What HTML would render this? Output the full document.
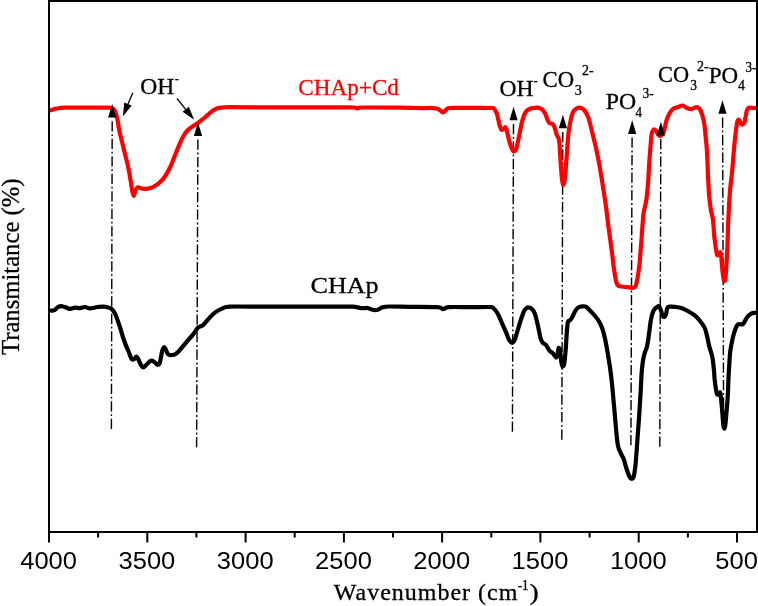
<!DOCTYPE html>
<html><head><meta charset="utf-8"><title>FTIR spectra</title>
<style>html,body{margin:0;padding:0;background:#fff}svg{display:block}</style></head>
<body>
<svg width="758" height="606" viewBox="0 0 758 606">
<rect width="758" height="606" fill="#fff"/>
<g stroke="#000" stroke-width="1.4" fill="none" stroke-dasharray="10.2 2.7 1.9 2.7">
<path d="M112.2,121.3L111.4,430.1"/>
<path d="M197.9,139.6L196.6,448.9"/>
<path d="M513.5,124.0L512.4,432.7"/>
<path d="M562.8,132.0L561.8,440.7"/>
<path d="M632.1,137.6L630.9,446.2"/>
<path d="M660.8,139.1L659.8,447.9"/>
<path d="M722.6,117.5L723.6,424.0"/>
</g>
<path d="M51.0,310.6C51.6,310.5 53.3,310.7 54.5,310.1C55.7,309.5 56.9,307.8 58.0,307.1C59.1,306.4 60.1,306.1 61.3,306.1C62.5,306.1 63.5,306.7 65.0,307.1C66.5,307.6 68.3,308.7 70.0,308.8C71.7,308.9 73.3,307.7 75.0,307.6C76.7,307.5 78.3,308.2 80.0,308.1C81.7,308.0 83.3,307.0 85.0,307.0C86.7,307.0 87.9,308.3 90.0,308.3C92.1,308.3 95.1,307.2 97.7,307.0C100.3,306.8 103.4,306.5 105.7,306.8C108.0,307.1 109.8,307.6 111.4,308.8C113.0,310.0 113.8,310.9 115.2,313.8C116.6,316.7 118.2,322.0 119.7,326.4C121.2,330.8 122.5,335.8 124.0,340.2C125.5,344.6 127.7,349.5 129.0,352.7C130.3,355.9 130.9,358.1 131.8,359.2C132.7,360.2 133.5,359.4 134.3,359.0C135.1,358.6 135.8,356.4 136.5,356.5C137.2,356.6 137.8,358.3 138.5,359.7C139.2,361.1 140.0,363.4 140.8,364.7C141.6,366.0 142.4,367.5 143.3,367.5C144.2,367.5 145.2,365.8 146.5,364.7C147.8,363.6 149.5,361.2 150.8,360.7C152.1,360.2 153.0,361.0 154.1,361.7C155.2,362.4 156.4,364.5 157.3,364.7C158.2,364.9 159.0,364.9 159.8,362.7C160.6,360.5 161.4,354.0 162.1,351.4C162.8,348.8 163.4,347.4 164.1,347.2C164.8,347.0 165.4,349.0 166.1,350.2C166.8,351.4 167.1,353.8 168.4,354.5C169.7,355.2 172.5,355.1 174.1,354.7C175.7,354.3 176.4,353.6 177.9,352.2C179.4,350.8 181.0,348.6 182.9,346.4C184.8,344.2 187.3,341.1 189.2,338.9C191.1,336.7 192.8,335.0 194.2,333.1C195.6,331.2 196.4,328.9 197.9,327.6C199.4,326.3 201.1,326.7 203.0,325.1C204.9,323.5 207.1,320.3 209.2,318.1C211.3,315.9 213.2,313.8 215.5,312.1C217.8,310.4 220.6,309.0 223.0,308.1C225.4,307.2 223.8,306.9 230.0,306.6C236.2,306.4 248.3,306.6 260.0,306.6C271.7,306.6 286.7,306.6 300.0,306.6C313.3,306.6 331.2,306.6 340.0,306.6C348.8,306.6 348.9,306.4 352.7,306.7C356.5,307.0 360.2,308.0 362.7,308.2C365.2,308.4 365.8,307.7 367.5,308.0C369.2,308.3 371.0,309.5 372.7,309.8C374.4,310.1 376.0,310.2 377.7,309.8C379.4,309.4 380.8,307.9 382.7,307.3C384.6,306.8 384.8,306.6 389.3,306.5C393.9,306.4 401.9,306.7 410.0,306.8C418.1,306.9 432.1,306.7 437.6,307.1C443.1,307.5 441.2,309.1 443.1,309.1C445.0,309.1 444.4,307.4 448.9,307.1C453.4,306.8 463.1,307.1 470.0,307.1C476.9,307.1 486.1,306.9 490.0,307.0C493.9,307.1 492.1,306.9 493.3,308.0C494.6,309.1 496.1,310.9 497.5,313.3C498.9,315.7 500.3,319.4 501.7,322.5C503.1,325.6 504.6,328.9 505.8,331.7C507.0,334.5 507.9,337.5 508.7,339.2C509.5,340.9 510.2,341.4 510.8,342.0C511.4,342.6 511.9,343.0 512.5,342.7C513.1,342.4 513.9,342.0 514.7,340.0C515.5,338.0 516.5,334.1 517.5,330.8C518.5,327.5 519.7,323.3 520.8,320.0C521.9,316.7 523.2,312.8 524.2,310.8C525.2,308.8 526.0,308.6 526.7,308.0C527.5,307.4 527.9,307.4 528.7,307.5C529.5,307.6 530.7,307.7 531.7,308.7C532.7,309.7 533.8,311.1 534.7,313.3C535.6,315.5 536.2,318.6 537.0,321.7C537.8,324.8 538.6,328.8 539.2,331.7C539.8,334.6 540.2,337.3 540.8,339.2C541.4,341.1 542.2,342.1 543.0,343.0C543.8,343.9 545.0,343.8 545.8,344.7C546.6,345.6 547.3,347.2 548.0,348.3C548.7,349.4 549.2,350.5 550.0,351.3C550.8,352.1 551.7,352.2 552.5,353.0C553.3,353.8 554.1,355.1 554.7,355.8C555.3,356.6 555.8,357.8 556.3,357.5C556.8,357.2 557.1,355.8 557.5,354.2C557.9,352.6 558.3,348.6 558.7,348.0C559.1,347.4 559.6,348.8 560.0,350.8C560.4,352.8 560.7,357.6 561.0,360.0C561.3,362.4 561.7,363.9 562.0,365.0C562.3,366.1 562.6,366.6 563.0,366.3C563.4,366.0 563.8,366.3 564.3,363.3C564.8,360.3 565.3,353.9 565.8,348.3C566.2,342.8 566.6,334.4 567.0,330.0C567.4,325.6 567.5,323.3 568.0,321.7C568.5,320.1 569.2,321.1 570.0,320.3C570.8,319.5 571.6,318.3 572.5,316.7C573.4,315.1 574.3,312.3 575.3,310.8C576.3,309.3 577.1,308.2 578.3,307.5C579.5,306.8 581.2,306.4 582.5,306.3C583.8,306.2 584.7,306.1 585.8,306.7C586.9,307.3 587.8,308.3 589.2,309.7C590.6,311.1 592.5,313.0 594.2,315.0C595.9,317.0 597.8,319.3 599.2,321.7C600.6,324.1 601.5,326.1 602.5,329.2C603.5,332.2 604.3,335.4 605.3,340.0C606.3,344.6 607.4,351.1 608.3,356.7C609.2,362.2 610.1,367.8 610.8,373.3C611.5,378.9 612.0,383.9 612.6,390.0C613.2,396.1 613.8,403.0 614.4,410.1C615.0,417.2 615.8,426.6 616.4,432.6C617.0,438.7 617.3,442.8 618.1,446.4C618.9,449.9 620.2,451.8 621.1,453.9C622.0,456.0 622.9,456.6 623.7,458.9C624.6,461.2 625.2,464.8 626.2,467.7C627.2,470.6 628.5,474.7 629.4,476.5C630.3,478.3 631.0,478.7 631.7,478.7C632.4,478.7 633.0,479.2 633.7,476.5C634.4,473.8 635.1,468.8 635.7,462.7C636.3,456.6 636.8,448.0 637.4,440.1C638.0,432.2 638.6,423.6 639.2,415.1C639.8,406.6 640.3,396.9 640.8,389.3C641.2,381.7 641.4,375.3 641.9,369.7C642.4,364.1 643.0,359.6 643.9,355.7C644.8,351.8 646.1,350.0 647.0,346.4C647.9,342.8 648.4,338.3 649.0,333.9C649.6,329.5 650.2,323.7 650.9,319.9C651.6,316.1 652.3,313.4 653.2,311.3C654.1,309.2 655.3,308.4 656.3,307.5C657.3,306.6 658.2,305.7 659.0,306.2C659.8,306.7 660.4,309.0 661.0,310.6C661.6,312.2 662.0,315.0 662.6,316.0C663.2,317.0 664.0,317.2 664.6,316.8C665.2,316.4 665.8,315.1 666.2,313.7C666.6,312.3 666.6,309.4 667.2,308.2C667.8,307.0 668.2,306.9 669.6,306.7C671.0,306.5 673.7,306.8 675.8,307.0C677.9,307.2 679.9,307.5 682.0,308.2C684.1,308.9 686.2,310.1 688.3,311.3C690.4,312.5 692.6,313.6 694.5,315.2C696.4,316.8 698.2,318.6 699.9,320.7C701.6,322.8 703.4,325.2 704.6,327.7C705.8,330.2 706.1,332.4 706.9,335.5C707.7,338.6 708.4,342.8 709.3,346.4C710.2,350.0 711.6,353.4 712.4,357.3C713.2,361.2 713.5,365.9 713.9,369.7C714.3,373.5 714.4,376.7 714.7,380.0C715.1,383.3 715.6,386.9 716.0,389.3C716.4,391.7 716.6,393.5 717.1,394.3C717.6,395.1 718.6,394.3 719.1,394.0C719.6,393.7 719.9,392.0 720.2,392.5C720.5,393.0 720.6,394.0 720.9,397.1C721.2,400.2 721.8,406.4 722.2,411.1C722.6,415.8 723.0,422.2 723.3,425.1C723.6,428.0 723.9,428.6 724.2,428.6C724.5,428.6 724.9,428.0 725.3,425.1C725.7,422.2 726.2,416.0 726.6,411.1C727.0,406.2 727.5,400.8 727.8,395.6C728.1,390.4 728.2,384.9 728.4,380.0C728.6,375.1 728.9,370.8 729.2,366.0C729.5,361.2 729.7,355.6 730.3,351.0C730.9,346.4 731.8,342.2 732.6,338.6C733.4,335.0 734.4,331.6 735.3,329.2C736.2,326.8 736.9,325.1 738.1,324.3C739.3,323.5 741.5,324.9 742.7,324.3C743.9,323.7 744.3,321.9 745.1,320.7C745.9,319.4 746.4,318.0 747.4,316.8C748.4,315.6 750.0,314.4 751.3,313.7C752.6,313.0 754.3,313.0 755.2,312.9C756.1,312.8 756.3,312.8 756.5,312.8" fill="none" stroke="#000" stroke-width="4.2" stroke-linejoin="round" stroke-linecap="round"/>
<path transform="translate(0,0.4)" d="M51.0,109.8C51.2,109.7 51.8,109.6 52.5,109.4C53.2,109.2 53.8,108.7 55.0,108.4C56.2,108.1 58.3,107.8 60.0,107.6C61.7,107.4 61.7,107.3 65.0,107.2C68.3,107.1 75.0,107.2 80.0,107.2C85.0,107.2 90.3,107.2 95.0,107.2C99.7,107.2 105.4,107.2 108.0,107.2C110.6,107.2 109.8,107.3 110.5,107.4C111.2,107.5 111.9,107.7 112.5,108.0C113.1,108.3 113.7,108.8 114.2,109.4C114.7,110.1 115.1,110.9 115.5,111.9C115.9,112.9 116.2,114.1 116.5,115.3C116.8,116.5 117.0,116.7 117.5,119.2C118.0,121.6 118.3,125.4 119.3,130.0C120.3,134.6 121.9,140.9 123.3,146.7C124.7,152.5 126.6,159.4 127.8,165.0C129.0,170.6 129.9,175.8 130.6,180.0C131.3,184.2 131.7,187.9 132.2,190.5C132.7,193.1 133.2,195.4 133.7,195.5C134.2,195.6 134.7,192.2 135.2,191.0C135.7,189.8 136.0,188.7 136.5,188.0C137.0,187.3 137.2,186.8 138.3,186.9C139.4,187.0 141.2,188.1 142.8,188.3C144.4,188.5 146.4,188.5 147.8,188.3C149.2,188.1 150.2,187.7 151.5,187.2C152.8,186.7 154.1,186.1 155.3,185.3C156.6,184.5 157.8,183.7 159.0,182.6C160.2,181.5 161.6,180.5 162.8,179.0C164.1,177.5 165.2,175.6 166.5,173.5C167.8,171.4 169.1,169.2 170.3,166.5C171.6,163.8 172.7,160.6 174.0,157.5C175.3,154.4 176.7,150.5 177.9,147.7C179.1,144.9 180.0,142.7 181.0,140.5C182.0,138.3 183.1,136.2 184.1,134.6C185.1,132.9 185.9,131.8 187.0,130.6C188.1,129.4 189.2,128.5 190.4,127.6C191.6,126.7 192.8,126.0 194.0,125.2C195.2,124.4 196.7,123.6 197.9,122.7C199.2,121.8 200.2,120.8 201.5,119.8C202.8,118.7 204.2,117.6 205.4,116.6C206.7,115.5 207.7,114.4 209.0,113.4C210.3,112.3 211.8,111.0 213.0,110.2C214.2,109.4 215.0,108.9 216.0,108.4C217.0,107.9 217.9,107.7 219.2,107.4C220.5,107.2 222.2,107.0 224.0,106.9C225.8,106.8 224.0,106.8 230.0,106.8C236.0,106.8 248.3,107.0 260.0,107.0C271.7,107.0 286.7,107.0 300.0,107.0C313.3,107.0 331.0,107.0 340.0,107.0C349.0,107.0 351.0,106.9 354.0,107.1C357.0,107.3 356.6,108.1 357.9,108.1C359.1,108.1 354.5,107.2 361.5,107.1C368.5,107.0 389.4,107.2 400.0,107.3C410.6,107.4 419.8,107.8 425.0,107.8C430.2,107.8 428.9,107.3 431.0,107.4C433.1,107.5 436.0,107.9 437.6,108.4C439.2,108.9 439.6,109.6 440.5,110.2C441.4,110.8 442.2,112.1 443.1,112.1C444.0,112.1 444.8,110.7 445.6,110.0C446.4,109.3 446.5,108.3 448.1,107.9C449.7,107.5 449.7,107.6 455.0,107.5C460.3,107.4 473.8,107.5 480.0,107.5C486.2,107.5 489.6,107.5 492.0,107.6C494.4,107.8 493.4,107.5 494.2,108.4C495.0,109.3 496.0,111.1 496.7,112.9C497.4,114.7 497.8,117.2 498.3,119.2C498.8,121.1 499.0,122.8 499.5,124.5C500.0,126.2 500.7,128.5 501.3,129.2C501.9,129.9 502.6,129.0 503.3,128.6C504.0,128.2 504.8,126.6 505.3,126.7C505.8,126.8 506.1,127.9 506.5,129.0C506.9,130.1 506.9,130.9 507.5,133.3C508.1,135.7 509.2,140.6 510.0,143.3C510.8,146.0 511.8,148.2 512.5,149.5C513.2,150.8 513.6,151.2 514.2,151.0C514.8,150.8 515.5,151.0 516.3,148.3C517.1,145.6 518.2,139.8 519.2,135.0C520.2,130.2 521.4,123.6 522.5,119.7C523.6,115.7 524.5,113.3 525.8,111.4C527.0,109.5 528.6,109.0 530.0,108.4C531.4,107.8 532.8,107.8 534.0,107.6C535.2,107.4 536.2,107.1 537.5,107.3C538.8,107.5 540.5,107.8 541.7,108.7C543.0,109.6 544.0,111.1 545.0,112.9C546.0,114.7 546.8,117.8 547.5,119.4C548.2,121.0 548.4,121.7 549.2,122.4C550.0,123.1 551.7,123.0 552.5,123.5C553.3,124.1 553.5,124.4 554.0,125.5C554.5,126.6 555.0,128.5 555.5,130.0C556.0,131.5 556.2,133.2 556.7,134.5C557.2,135.8 558.1,136.2 558.6,138.0C559.1,139.8 559.3,141.3 559.6,145.0C559.9,148.7 560.1,154.6 560.5,160.0C560.9,165.4 561.4,173.4 561.9,177.5C562.4,181.6 562.9,184.8 563.4,184.8C563.9,184.8 564.5,182.4 565.0,177.5C565.5,172.6 566.1,162.8 566.7,155.3C567.3,147.8 567.8,138.9 568.5,132.7C569.2,126.5 570.2,121.8 571.0,118.2C571.8,114.6 572.5,112.6 573.5,110.9C574.5,109.2 575.6,108.5 576.7,107.9C577.8,107.3 578.8,107.1 580.0,107.4C581.2,107.7 582.8,108.0 584.2,109.6C585.6,111.2 587.0,113.6 588.3,117.0C589.5,120.4 590.5,125.0 591.7,130.0C593.0,135.0 594.5,141.1 595.8,146.7C597.0,152.2 598.1,157.2 599.2,163.3C600.3,169.4 601.4,176.4 602.5,183.3C603.6,190.2 604.8,198.1 605.8,205.0C606.8,211.9 607.3,217.5 608.3,225.0C609.3,232.5 610.7,242.5 611.7,250.0C612.7,257.5 613.4,264.7 614.2,270.0C615.0,275.3 615.6,279.1 616.3,281.7C617.0,284.2 617.1,284.5 618.3,285.3C619.5,286.1 621.5,286.0 623.3,286.3C625.1,286.6 627.5,286.8 629.2,287.0C630.9,287.2 632.2,287.6 633.3,287.3C634.4,287.0 635.0,287.1 635.8,285.0C636.6,282.9 637.4,278.9 638.0,275.0C638.6,271.1 639.2,267.2 639.7,261.7C640.2,256.1 640.8,247.8 641.3,241.7C641.8,235.6 642.1,229.7 642.5,225.0C642.9,220.3 642.9,217.5 643.5,213.3C644.1,209.1 645.5,205.0 646.3,200.0C647.0,195.0 647.5,189.4 648.0,183.3C648.5,177.2 648.8,169.7 649.2,163.3C649.6,156.9 650.2,150.0 650.6,145.0C651.0,140.0 651.2,135.9 651.7,133.3C652.2,130.7 653.0,129.8 653.7,129.2C654.4,128.6 655.0,129.1 655.8,130.0C656.6,130.9 657.5,133.6 658.3,134.5C659.1,135.4 660.0,135.6 660.8,135.3C661.6,135.0 662.6,133.8 663.3,132.5C664.0,131.2 664.3,129.6 664.8,127.5C665.3,125.4 665.7,122.4 666.5,120.0C667.3,117.5 668.5,114.7 669.6,112.8C670.7,110.9 671.8,109.4 673.3,108.4C674.8,107.4 676.8,107.2 678.3,106.6C679.8,106.1 681.2,104.9 682.6,105.1C684.0,105.3 685.5,107.0 686.9,107.6C688.3,108.2 689.9,108.9 691.3,108.8C692.6,108.7 694.0,107.5 695.0,107.2C696.0,106.9 696.7,106.5 697.5,106.8C698.3,107.1 699.2,107.6 700.0,109.0C700.8,110.4 701.7,112.7 702.4,115.1C703.1,117.5 703.8,120.3 704.3,123.5C704.8,126.8 705.1,130.6 705.5,134.7C705.9,138.8 706.4,143.2 706.8,148.3C707.1,153.4 707.4,159.7 707.6,165.0C707.8,170.3 707.9,174.6 708.2,180.0C708.5,185.4 708.8,192.3 709.3,197.2C709.8,202.1 710.3,205.9 710.9,209.6C711.5,213.3 712.5,215.2 713.0,219.5C713.5,223.8 713.9,231.7 714.2,235.1C714.5,238.5 714.5,237.6 714.8,240.0C715.1,242.4 715.7,247.3 716.1,249.8C716.5,252.3 716.8,254.2 717.3,254.8C717.8,255.4 718.7,254.0 719.2,253.5C719.7,253.0 720.0,251.1 720.4,251.7C720.8,252.3 721.0,254.4 721.3,257.2C721.6,260.0 722.0,265.1 722.3,268.4C722.6,271.7 723.0,275.1 723.3,277.1C723.6,279.1 723.8,280.4 724.1,280.6C724.5,280.8 725.0,281.4 725.4,278.3C725.8,275.2 726.2,268.0 726.6,262.2C727.0,256.4 727.2,250.3 727.5,243.6C727.8,236.9 727.9,228.7 728.2,222.0C728.5,215.3 728.8,209.2 729.1,203.4C729.5,197.6 729.8,192.5 730.3,187.3C730.8,182.1 731.5,177.3 732.0,172.4C732.5,167.5 732.8,163.2 733.2,158.0C733.7,152.8 734.2,145.8 734.7,140.9C735.2,136.0 735.8,131.8 736.2,128.5C736.7,125.2 736.9,122.6 737.4,121.1C737.9,119.6 738.4,119.1 739.0,119.4C739.6,119.7 740.3,122.2 740.9,123.0C741.5,123.8 742.1,124.3 742.7,124.1C743.3,123.9 744.1,123.3 744.6,121.8C745.1,120.3 745.3,117.2 745.8,115.1C746.2,113.0 746.7,110.3 747.3,109.0C747.9,107.7 748.6,107.4 749.6,107.2C750.6,107.0 752.2,107.5 753.3,107.6C754.4,107.7 755.9,107.8 756.4,107.8" fill="none" stroke="#f00" stroke-width="4.2" stroke-linejoin="round" stroke-linecap="round"/>
<g fill="#000">
<path d="M112.2,104.0L108.1,117.6L116.3,117.6Z"/>
<path d="M198.0,122.3L193.9,135.9L202.1,135.9Z"/>
<path d="M513.6,106.7L509.5,120.3L517.7,120.3Z"/>
<path d="M562.9,114.7L558.8,128.3L567.0,128.3Z"/>
<path d="M632.2,120.3L628.1,133.9L636.3,133.9Z"/>
<path d="M660.9,121.8L656.8,135.4L665.0,135.4Z"/>
<path d="M722.5,100.2L718.4,113.8L726.6,113.8Z"/>
</g>
<path d="M132.8,92.7L128.0,104.1" stroke="#000" stroke-width="1.3" fill="none"/><path d="M122.8,116.5L124.3,102.5L131.7,105.6Z" fill="#000"/>
<path d="M177.0,98.5L185.7,109.3" stroke="#000" stroke-width="1.3" fill="none"/><path d="M194.2,119.8L182.6,111.8L188.8,106.8Z" fill="#000"/>
<g stroke="#000" stroke-width="2" fill="none">
<path d="M49,0V533"/><path d="M757,0V533"/><path d="M48,1H758"/><path d="M48,532H758"/>
<path d="M49.0,532V542.5"/>
<path d="M98.1,532V537.5"/>
<path d="M147.3,532V542.5"/>
<path d="M196.4,532V537.5"/>
<path d="M245.6,532V542.5"/>
<path d="M294.7,532V537.5"/>
<path d="M343.9,532V542.5"/>
<path d="M393.0,532V537.5"/>
<path d="M442.1,532V542.5"/>
<path d="M491.3,532V537.5"/>
<path d="M540.4,532V542.5"/>
<path d="M589.6,532V537.5"/>
<path d="M638.7,532V542.5"/>
<path d="M687.9,532V537.5"/>
<path d="M737.0,532V542.5"/>
</g>
<g font-family="'Liberation Sans',Arial,sans-serif" font-size="23.2" text-anchor="middle" fill="#000">
<text x="48.6" y="569" textLength="56.8" lengthAdjust="spacingAndGlyphs">4000</text>
<text x="146.9" y="569" textLength="56.8" lengthAdjust="spacingAndGlyphs">3500</text>
<text x="245.2" y="569" textLength="56.8" lengthAdjust="spacingAndGlyphs">3000</text>
<text x="343.5" y="569" textLength="56.8" lengthAdjust="spacingAndGlyphs">2500</text>
<text x="441.7" y="569" textLength="56.8" lengthAdjust="spacingAndGlyphs">2000</text>
<text x="540.0" y="569" textLength="56.8" lengthAdjust="spacingAndGlyphs">1500</text>
<text x="638.3" y="569" textLength="56.8" lengthAdjust="spacingAndGlyphs">1000</text>
<text x="736.6" y="569" textLength="42.6" lengthAdjust="spacingAndGlyphs">500</text>
</g>
<g font-family="'Liberation Serif','Times New Roman',serif" stroke-width="0.3">
<text id="oh1" x="140.25" y="93.80" font-size="23.60" fill="#000" stroke="#000" textLength="34.08" lengthAdjust="spacingAndGlyphs">OH</text>
<text id="oh1s" x="175.00" y="83.20" font-size="14.00" fill="#000" stroke="#000" textLength="3.67" lengthAdjust="spacingAndGlyphs">-</text>
<text id="lab1" x="298.25" y="95.10" font-size="23.60" fill="#f00" stroke="#f00" textLength="100.70" lengthAdjust="spacingAndGlyphs">CHAp+Cd</text>
<text id="oh2" x="499.50" y="95.80" font-size="23.60" fill="#000" stroke="#000" textLength="34.08" lengthAdjust="spacingAndGlyphs">OH</text>
<text id="oh2s" x="533.50" y="85.20" font-size="14.00" fill="#000" stroke="#000" textLength="4.17" lengthAdjust="spacingAndGlyphs">-</text>
<text id="co1" x="542.50" y="86.80" font-size="23.60" fill="#000" stroke="#000" textLength="31.53" lengthAdjust="spacingAndGlyphs">CO</text>
<text id="co1b" x="574.75" y="94.70" font-size="14.00" fill="#000" stroke="#000" textLength="7.00" lengthAdjust="spacingAndGlyphs">3</text>
<text id="co1s" x="582.00" y="75.40" font-size="14.00" fill="#000" stroke="#000" textLength="11.67" lengthAdjust="spacingAndGlyphs">2-</text>
<text id="po1" x="605.75" y="109.20" font-size="23.60" fill="#000" stroke="#000" textLength="30.42" lengthAdjust="spacingAndGlyphs">PO</text>
<text id="po1b" x="635.50" y="117.00" font-size="14.00" fill="#000" stroke="#000" textLength="6.50" lengthAdjust="spacingAndGlyphs">4</text>
<text id="po1s" x="642.50" y="98.00" font-size="14.00" fill="#000" stroke="#000" textLength="11.17" lengthAdjust="spacingAndGlyphs">3-</text>
<text id="co2" x="658.00" y="82.30" font-size="23.60" fill="#000" stroke="#000" textLength="31.03" lengthAdjust="spacingAndGlyphs">CO</text>
<text id="co2b" x="690.25" y="89.80" font-size="14.00" fill="#000" stroke="#000" textLength="6.75" lengthAdjust="spacingAndGlyphs">3</text>
<text id="co2s" x="697.00" y="70.60" font-size="14.00" fill="#000" stroke="#000" textLength="11.67" lengthAdjust="spacingAndGlyphs">2-</text>
<text id="po2" x="708.75" y="82.90" font-size="23.60" fill="#000" stroke="#000" textLength="29.42" lengthAdjust="spacingAndGlyphs">PO</text>
<text id="po2b" x="738.00" y="90.30" font-size="14.00" fill="#000" stroke="#000" textLength="7.00" lengthAdjust="spacingAndGlyphs">4</text>
<text id="po2s" x="745.50" y="71.60" font-size="14.00" fill="#000" stroke="#000" textLength="10.92" lengthAdjust="spacingAndGlyphs">3-</text>
<text id="lab2" x="310.50" y="292.80" font-size="23.70" fill="#000" stroke="#000" textLength="68.11" lengthAdjust="spacingAndGlyphs">CHAp</text>
<text id="yl" x="18.80" y="355.00" font-size="24.60" fill="#000" stroke="#000" textLength="176.50" lengthAdjust="spacingAndGlyphs" transform="rotate(-90 18.8 355.0)">Transmitance (%)</text>
<text id="xl1" x="333.75" y="600.20" font-size="24.00" fill="#000" stroke="#000" textLength="183.67" lengthAdjust="spacing">Wavenumber (cm</text>
<text id="xl2" x="517.75" y="589.60" font-size="14.00" fill="#000" stroke="#000" textLength="10.92" lengthAdjust="spacingAndGlyphs">-1</text>
<text id="xl3" x="529.50" y="600.20" font-size="24.00" fill="#000" stroke="#000" textLength="9.25" lengthAdjust="spacingAndGlyphs">)</text>
</g>
</svg>
</body></html>
